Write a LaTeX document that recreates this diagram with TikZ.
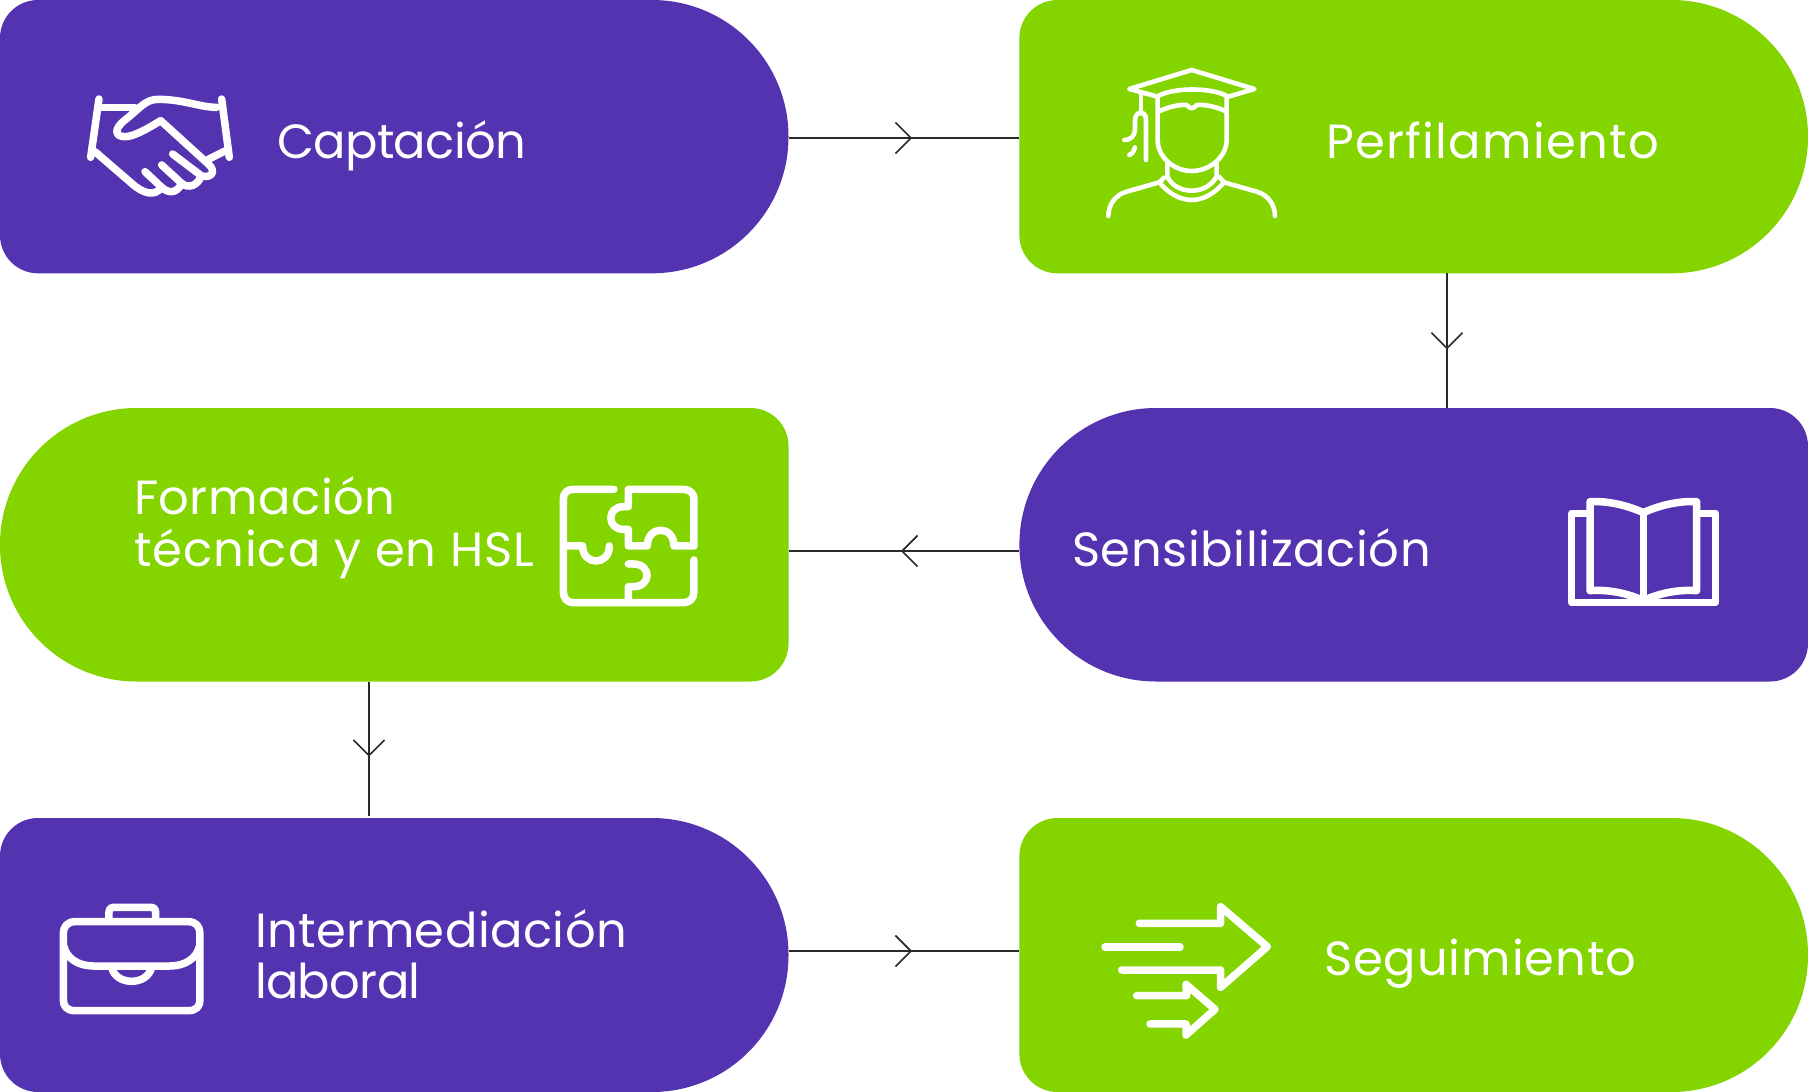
\documentclass[tikz,border=0pt]{standalone}
\usepackage{fontspec}
\setmainfont{Poppins}
\usetikzlibrary{decorations.markings}
\definecolor{violeta}{HTML}{5433B0}
\definecolor{verde}{HTML}{84D400}
\definecolor{linea}{HTML}{2A2A2A}
\tikzset{
  boxanchor/.style={rectangle,inner sep=0pt,outer sep=0pt,draw=none,fill=none},
  txtlabel/.style={text=white,inner sep=0pt,outer sep=0pt,font=\fontsize{48}{52}\selectfont\addfontfeature{LetterSpace=#1},anchor=base west},
  conn/.style={draw=linea,line width=1.6pt},
  midbarb/.style={postaction={decorate,decoration={markings,mark=at position #1 with {
     \draw[linea,line width=1.6pt,line join=miter] (-15.5pt,15.5pt) -- (0pt,0pt) -- (-15.5pt,-15.5pt);}}}},
  icon/.style={draw=white,line width=7.5pt,line cap=round,line join=round,fill=none},
  thinicon/.style={draw=white,line width=4.6pt,line cap=round,line join=round,fill=none},
}
% name, x1, y1, x2, y2, colour, left radius, right radius
\newcommand{\softbox}[8]{%
  \pgfmathsetmacro{\bxm}{(#2+#4)/2}%
  \pgfmathsetmacro{\bym}{(#3+#5)/2}%
  \pgfmathsetmacro{\bw}{#4-#2}%
  \pgfmathsetmacro{\bh}{#5-#3}%
  \fill[#6] (\bxm,#3) [rounded corners=#8pt] -- (#4,#3) -- (#4,#5) -- (\bxm,#5)
     [rounded corners=#7pt] -- (#2,#5) -- (#2,#3) -- cycle;
  \node[boxanchor,minimum width=\bw pt,minimum height=\bh pt] (#1) at (\bxm,\bym) {};%
}
\begin{document}
\begin{tikzpicture}[x=1pt,y=-1pt]
\useasboundingbox (0,0) rectangle (1808,1092);
\fill[white] (0,0) rectangle (1808,1092);

\softbox{captacion}{0}{0}{788.5}{273.3}{violeta}{38}{136.6}
\softbox{perfil}{1019.4}{0}{1808}{273.3}{verde}{38}{136.6}
\softbox{sensib}{1019.4}{408}{1808}{681.5}{violeta}{136.6}{38}
\softbox{formacion}{0}{408}{788.5}{681.5}{verde}{136.6}{38}
\softbox{intermed}{0}{818}{788.5}{1092}{violeta}{38}{136.6}
\softbox{seguim}{1019.4}{818}{1808}{1092}{verde}{38}{136.6}

% connectors
\draw[conn,midbarb=0.53] (captacion.east |- 0,138) -- (perfil.west |- 0,138);
\draw[conn,midbarb=0.556] (1447,0 |- perfil.south) -- (1447,0 |- sensib.north);
\draw[conn,midbarb=0.508] (sensib.west |- 0,551) -- (formacion.east |- 0,551);
\draw[conn,midbarb=0.55] (369,0 |- formacion.south) -- (369,816);
\draw[conn,midbarb=0.53] (intermed.east |- 0,951) -- (seguim.west |- 0,951);

% labels
\node[txtlabel=-1.3] (tcap) at (277,158) {Captación};
\node[txtlabel=2.7] (tper) at (1326,158) {Perfilamiento};
\node[txtlabel=1.3] (tsen) at (1072,566) {Sensibilización};
\node[txtlabel=1.1] (tfor1) at (134,514) {Formación};
\node[txtlabel=2.1] (tfor2) at (134,566) {técnica y en HSL};
\node[txtlabel=1] (tint1) at (255,947) {Intermediación};
\node[txtlabel=-1.4] (tint2) at (255,998) {laboral};
\node[txtlabel=2] (tseg) at (1324,975) {Seguimiento};

% handshake
\begin{scope}[shift={(60,70)},x=0.3333pt,y=-0.3333pt,icon]
\draw (117,87) -- (92,262);
\draw (485,87) -- (508,262);
\draw (117,112) -- (225,112);
\draw (470,112) .. controls (420,112) and (370,88) .. (295,88)
      .. controls (255,88) and (240,115) .. (195,150)
      .. controls (160,178) and (165,200) .. (195,200)
      .. controls (220,200) and (260,178) .. (302,152)
      -- (445,282) .. controls (470,305) and (455,325) .. (425,318) -- (338,252);
\draw (445,268) -- (495,243);
\draw (105,245) -- (215,340) .. controls (250,372) and (285,380) .. (305,352) -- (255,305);
\draw (305,285) -- (365,340) .. controls (350,372) and (325,370) .. (305,352);
\draw (365,340) .. controls (385,358) and (415,345) .. (423,318);
\end{scope}

% graduate
\begin{scope}[shift={(1090,50)},x=0.3333pt,y=-0.3333pt,thinicon]
\draw (415,140) -- (493,117) -- (305,60) -- (118,117) -- (203,140);
\draw (205,138) .. controls (250,112) and (365,112) .. (410,138);
\draw (205,185) .. controls (235,170) and (270,163) .. (290,165) .. controls (295,170) and (300,175) .. (305,175)
      .. controls (310,175) and (315,170) .. (320,165) .. controls (345,163) and (380,170) .. (410,185);
\draw (203,140) -- (203,270) .. controls (203,320) and (250,363) .. (305,363) .. controls (360,363) and (410,320) .. (410,270) -- (410,140);
\draw (232,340) -- (232,380) .. controls (245,405) and (270,422) .. (305,422) .. controls (340,422) and (365,405) .. (380,380) -- (380,340);
\draw (222,383) -- (208,397) .. controls (235,430) and (270,450) .. (305,450) .. controls (340,450) and (375,430) .. (402,397) -- (387,380);
\draw (208,397) -- (110,425) .. controls (75,435) and (55,465) .. (55,498);
\draw (402,397) -- (500,425) .. controls (535,435) and (555,465) .. (555,498);
\draw (153,128) -- (153,190);
\draw (168,330) -- (168,210) .. controls (168,195) and (160,188) .. (153,188) .. controls (142,188) and (135,198) .. (135,212)
      -- (135,238) .. controls (135,258) and (122,270) .. (103,270);
\draw (135,292) .. controls (133,302) and (128,310) .. (118,315);
\end{scope}

% puzzle
\begin{scope}[shift={(540,470)},x=0.3333pt,y=-0.3333pt,icon]
\draw (222,58) -- (100,58) .. controls (80,58) and (70,70) .. (70,88) -- (70,365)
      .. controls (70,385) and (82,398) .. (100,398) -- (430,398)
      .. controls (450,398) and (462,385) .. (462,365) -- (462,270);
\draw (75,228) -- (128,228) .. controls (128,288) and (208,288) .. (208,228);
\draw (265,110) -- (265,58) -- (430,58) .. controls (450,58) and (462,70) .. (462,88) -- (462,228) -- (402,228)
      .. controls (402,165) and (322,165) .. (322,228) -- (265,228) -- (265,178) -- (250,178)
      .. controls (200,178) and (200,110) .. (250,110) -- cycle;
\draw (265,282) -- (280,282) .. controls (335,282) and (335,350) .. (280,350) -- (265,350) -- (265,398);
\end{scope}

% book
\begin{scope}[shift={(1550,480)},x=0.3333pt,y=-0.3333pt,icon]
\draw (110,100) -- (65,100) -- (65,368) -- (497,368) -- (497,100) -- (450,100);
\draw (280,98) .. controls (230,75) and (170,62) .. (120,65) -- (120,332) .. controls (170,328) and (230,338) .. (280,362);
\draw (280,98) .. controls (330,75) and (390,62) .. (440,65) -- (440,332) .. controls (390,328) and (330,338) .. (280,362);
\draw (280,98) -- (280,362);
\end{scope}

% briefcase
\begin{scope}[shift={(40,890)},x=0.3333pt,y=-0.3333pt,icon]
\draw (105,95) -- (445,95) .. controls (468,95) and (480,110) .. (480,130) -- (480,330)
      .. controls (480,350) and (468,362) .. (445,362) -- (105,362)
      .. controls (82,362) and (70,350) .. (70,330) -- (70,130) .. controls (70,110) and (82,95) .. (105,95) -- cycle;
\draw (72,170) .. controls (80,205) and (115,228) .. (160,228) -- (390,228) .. controls (435,228) and (470,205) .. (478,170);
\draw (215,232) .. controls (228,288) and (322,288) .. (335,232);
\draw (207,90) -- (207,65) .. controls (207,56) and (212,52) .. (220,52) -- (334,52) .. controls (342,52) and (347,56) .. (347,65) -- (347,90);
\end{scope}

% arrows
\begin{scope}[shift={(1090,890)},x=0.3333pt,y=-0.3333pt,icon]
\draw (148,100) -- (392,100) -- (392,50) -- (532,170) -- (392,292) -- (392,240) -- (95,240);
\draw (45,171) -- (270,171);
\draw (140,317) -- (290,317) -- (288,283) -- (375,358) -- (288,435) -- (288,402) -- (180,402);
\end{scope}
\end{tikzpicture}
\end{document}
